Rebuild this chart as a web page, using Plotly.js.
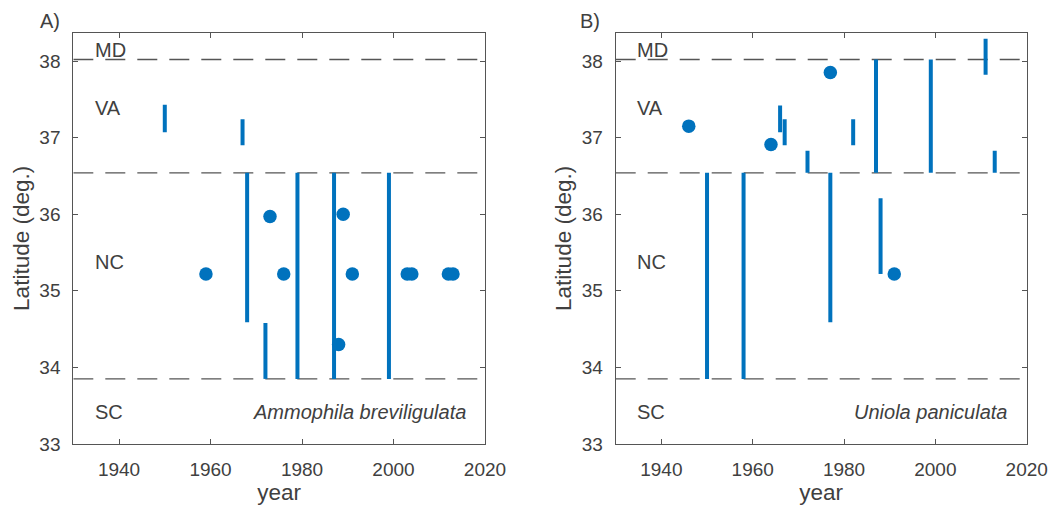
<!DOCTYPE html>
<html><head><meta charset="utf-8">
<script src="https://cdn.plot.ly/plotly-3.0.1.min.js"></script>
<style>html,body{margin:0;padding:0;background:#fff}#chart{width:1062px;height:506px}</style>
</head><body><div id="chart"></div>
<script>
// State boundary latitudes
const boundaryLats = [38.02, 36.54, 33.85];
const regionNames = ["MD", "VA", "NC", "SC"];
const regionLabelLats = [38.14, 37.39, 35.38, 33.42];
const yearTicks = [1940, 1960, 1980, 2000, 2020];
const latTicks = [33, 34, 35, 36, 37, 38];

// Panel A: Ammophila breviligulata
const aRangeYears = [1950, 1967, 1968, 1972, 1979, 1987, 1999];
const aRangeLo    = [37.07, 36.90, 34.59, 33.85, 33.85, 33.85, 33.85];
const aRangeHi    = [37.43, 37.24, 36.54, 34.58, 36.54, 36.54, 36.54];
const aPointYears = [1959, 1973, 1976, 1988, 1989, 1991, 2003, 2004, 2012, 2013];
const aPointLats  = [35.22, 35.97, 35.22, 34.30, 36.00, 35.22, 35.22, 35.22, 35.22, 35.22];

// Panel B: Uniola paniculata
const bRangeYears = [1950, 1958, 1966, 1967, 1972, 1977, 1982, 1987, 1988, 1999, 2011, 2013];
const bRangeLo    = [33.85, 33.85, 37.07, 36.90, 36.54, 34.59, 36.90, 36.54, 35.22, 36.54, 37.82, 36.54];
const bRangeHi    = [36.54, 36.54, 37.42, 37.24, 36.83, 36.54, 37.24, 38.02, 36.21, 38.02, 38.29, 36.83];
const bPointYears = [1946, 1964, 1977, 1991];
const bPointLats  = [37.15, 36.91, 37.85, 35.22];

const speciesNames = ["Ammophila breviligulata", "Uniola paniculata"];
const panelLabels = ["A)", "B)"];

const blue = "#0072BD";
const txt = "#404040";
const FONT = "Liberation Sans, Arial, Helvetica, sans-serif";

function segs(years, lo, hi) {
  const x = [], y = [];
  years.forEach((yr, i) => { x.push(yr, yr, null); y.push(lo[i], hi[i], null); });
  return {x, y};
}

const traces = [];
function addPanel(xa, ya, ry, rlo, rhi, py, pl) {
  boundaryLats.forEach(b => traces.push({
    x: [1930, 2020], y: [b, b], xaxis: xa, yaxis: ya, mode: "lines",
    line: {color: "#555555", width: 1.3, dash: "20px,12px"}, hoverinfo: "skip", showlegend: false
  }));
  const s = segs(ry, rlo, rhi);
  traces.push({x: s.x, y: s.y, xaxis: xa, yaxis: ya, mode: "lines",
    line: {color: blue, width: 4}, showlegend: false, connectgaps: false});
  traces.push({x: py, y: pl, xaxis: xa, yaxis: ya, mode: "markers",
    marker: {color: blue, size: 13.5}, showlegend: false});
}
addPanel("x", "y", aRangeYears, aRangeLo, aRangeHi, aPointYears, aPointLats);
addPanel("x2", "y2", bRangeYears, bRangeLo, bRangeHi, bPointYears, bPointLats);

function xax(domain, anchor) {
  return {domain, anchor, range: [1930, 2020], tickvals: yearTicks, ticks: "inside", ticklen: 5,
    tickcolor: "#555", showline: true, linecolor: "#555", linewidth: 1, mirror: "ticks",
    showgrid: false, zeroline: false, tickfont: {size: 19, color: txt, family: FONT},
    ticklabelstandoff: 8,
    title: {text: "year", font: {size: 22.5, color: txt, family: FONT}, standoff: 5}};
}
function yax(domain, anchor) {
  return {domain, anchor, range: [33, 38.37], tickvals: latTicks, ticks: "inside", ticklen: 5,
    tickcolor: "#555", showline: true, linecolor: "#555", linewidth: 1, mirror: "ticks",
    showgrid: false, zeroline: false, tickfont: {size: 19, color: txt, family: FONT},
    ticklabelstandoff: 8,
    title: {text: "Latitude (deg.)", font: {size: 22.5, color: txt, family: FONT}, standoff: 3}};
}

const annotations = [];
[["x", "y"], ["x2", "y2"]].forEach(([xr, yr], k) => {
  regionNames.forEach((n, i) => annotations.push({xref: xr, yref: yr, x: 1934.3, y: regionLabelLats[i],
    text: n, showarrow: false, xanchor: "left", yanchor: "middle", font: {size: 20, color: txt, family: FONT}}));
  annotations.push({xref: xr, yref: yr, x: 2016.2, y: 33.42, text: "<i>" + speciesNames[k] + "</i>",
    showarrow: false, xanchor: "right", yanchor: "middle", font: {size: 20, color: txt, family: FONT}});
});
annotations.push({xref: "paper", yref: "paper", x: 38/1062, y: 1 - 21/506, text: panelLabels[0],
  showarrow: false, xanchor: "left", yanchor: "middle", font: {size: 20, color: txt, family: FONT}});
annotations.push({xref: "paper", yref: "paper", x: 578/1062, y: 1 - 21/506, text: panelLabels[1],
  showarrow: false, xanchor: "left", yanchor: "middle", font: {size: 20, color: txt, family: FONT}});

const yDom = [62/506, 1 - 32.7/506];
const layout = {
  width: 1062, height: 506, margin: {l: 0, r: 0, t: 0, b: 0},
  paper_bgcolor: "#fff", plot_bgcolor: "#fff", showlegend: false,
  xaxis: xax([73.3/1062, 485/1062], "y"), yaxis: yax(yDom, "x"),
  xaxis2: xax([615.7/1062, 1026.7/1062], "y2"), yaxis2: yax(yDom, "x2"),
  annotations
};
Plotly.newPlot("chart", traces, layout, {staticPlot: true});
</script></body></html>
